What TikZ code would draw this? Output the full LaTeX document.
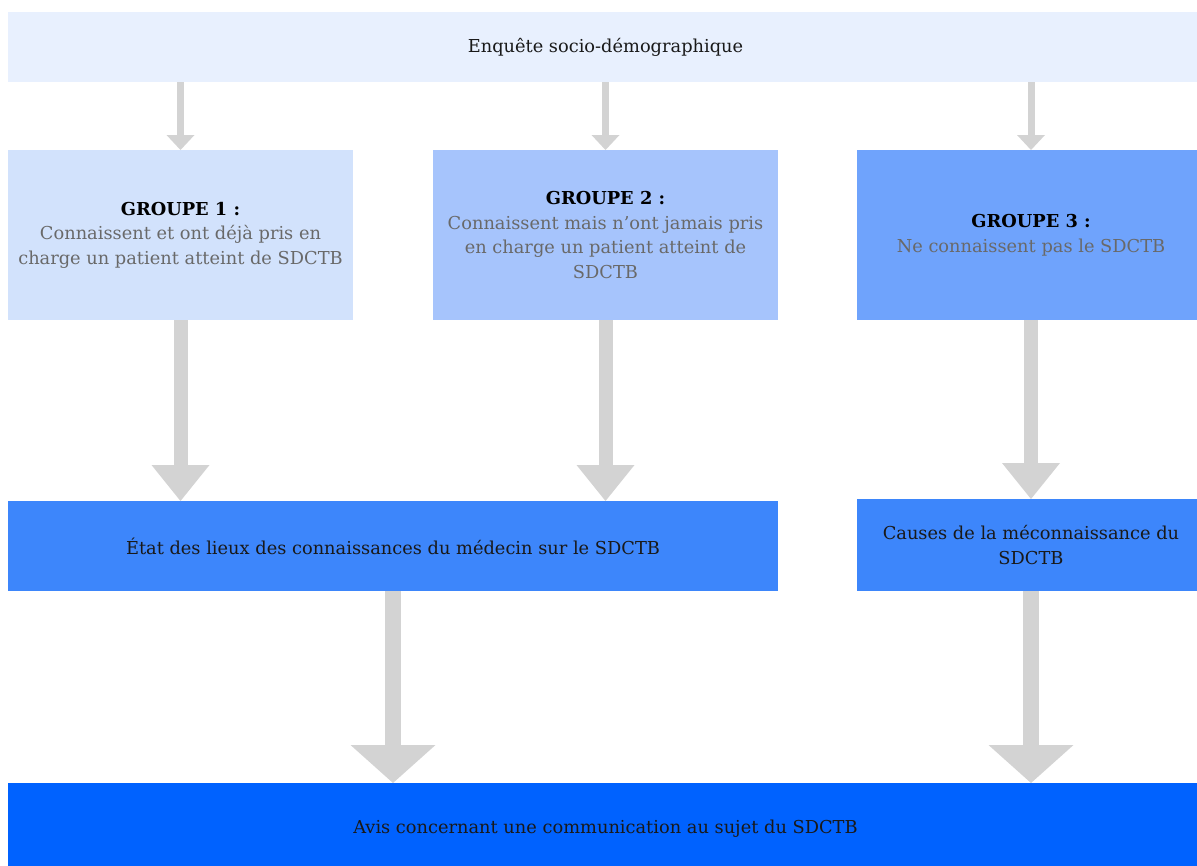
\documentclass[tikz,border=0pt]{standalone}
\usepackage{fontspec}
\setmainfont{DejaVu Serif}
\usetikzlibrary{arrows.meta}
\definecolor{bleuA}{RGB}{232,240,254}
\definecolor{bleuB}{RGB}{210,226,252}
\definecolor{bleuC}{RGB}{166,196,252}
\definecolor{bleuD}{RGB}{111,163,252}
\definecolor{bleuE}{RGB}{61,134,251}
\definecolor{bleuF}{RGB}{0,98,255}
\definecolor{flgris}{RGB}{211,211,211}
\definecolor{txtgris}{RGB}{105,105,105}
\newcommand{\titre}[1]{{\bfseries\color{black}#1}\\}
\begin{document}
\begin{tikzpicture}[x=1pt,y=-1pt,
boite/.style={rectangle,inner sep=0pt,outer sep=0pt,align=center,font=\fontsize{17.8}{24.5}\selectfont,text=black!90},
petite/.style={draw=flgris,line width=7pt,-{Triangle[width=28pt,length=15pt,line width=0pt]}},
moyenne/.style={draw=flgris,line width=14pt,-{Triangle[width=58pt,length=36pt,line width=0pt]}},
grande/.style={draw=flgris,line width=16pt,-{Triangle[width=85pt,length=38pt,line width=0pt]}}]
\useasboundingbox (0,0) rectangle (1197,865);
\node[boite,fill=bleuA,minimum width=1195pt,minimum height=70pt] (enq) at (605.5,47) {Enquête socio-démographique};
\node[boite,fill=bleuB,minimum width=345pt,minimum height=170pt,text=txtgris] (g1) at (180.5,235)
  {\titre{GROUPE 1 :}Connaissent et ont déjà pris en\\charge un patient atteint de SDCTB};
\node[boite,fill=bleuC,minimum width=345pt,minimum height=170pt,text=txtgris] (g2) at (605.5,235)
  {\titre{GROUPE 2 :}Connaissent mais n’ont jamais pris\\en charge un patient atteint de\\SDCTB};
\node[boite,fill=bleuD,minimum width=348pt,minimum height=170pt,text=txtgris] (g3) at (1031,235)
  {\titre{GROUPE 3 :}Ne connaissent pas le SDCTB};
\node[boite,fill=bleuE,minimum width=770pt,minimum height=90pt] (etat) at (393,546)
  {État des lieux des connaissances du médecin sur le SDCTB};
\node[boite,fill=bleuE,minimum width=348pt,minimum height=92pt] (causes) at (1031,545)
  {Causes de la méconnaissance du\\SDCTB};
\node[boite,fill=bleuF,minimum width=1195pt,minimum height=92pt] (avis) at (605.5,829)
  {Avis concernant une communication au sujet du SDCTB};
% fleches
\draw[petite] (enq.south -| g1.north) -- (g1.north);
\draw[petite] (enq.south -| g2.north) -- (g2.north);
\draw[petite] (enq.south -| g3.north) -- (g3.north);
\draw[moyenne] (g1.south) -- (g1.south |- etat.north);
\draw[moyenne] (g2.south) -- (g2.south |- etat.north);
\draw[moyenne] (g3.south) -- (causes.north);
\draw[grande] (etat.south) -- (etat.south |- avis.north);
\draw[grande] (causes.south) -- (causes.south |- avis.north);
\end{tikzpicture}
\end{document}
